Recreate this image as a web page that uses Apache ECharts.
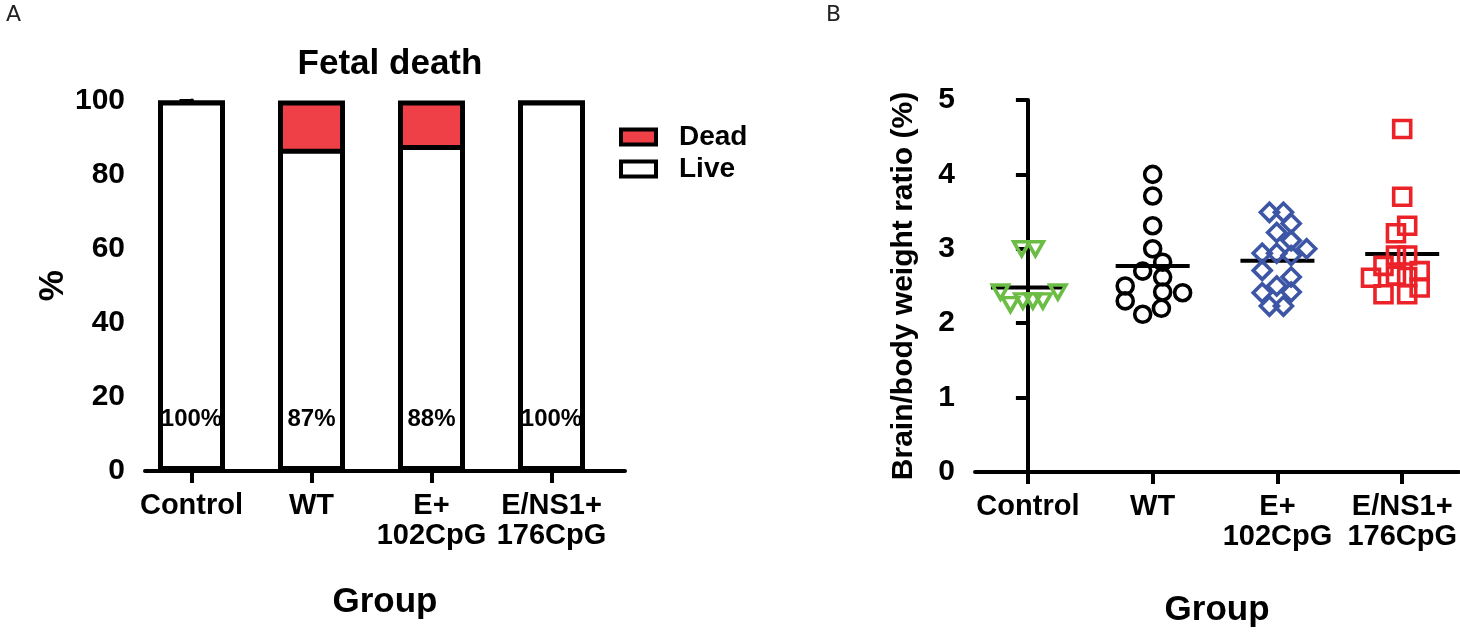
<!DOCTYPE html>
<html>
<head>
<meta charset="utf-8">
<script src="https://cdn.jsdelivr.net/npm/echarts@6/dist/echarts.min.js"></script>
<style>
  html, body { margin: 0; padding: 0; background: #fff; }
  #chart { width: 1460px; height: 633px; }
</style>
</head>
<body>
<div id="chart"></div>
<script>
// groups shared by both panels
const groups = ['Control', 'WT', 'E+\n102CpG', 'E/NS1+\n176CpG']

// panel A: fetal death (%)
const liveVals = [100, 87, 88, 100]
const deadVals = [0, 13, 12, 0]
const pctTicks = [0, 20, 40, 60, 80, 100]

// panel B: brain/body weight ratio (%), jitter is horizontal offset within group
const controlVals = [3.0, 3.0, 2.42, 2.25, 2.3, 2.3, 2.3, 2.42]
const controlJit = [-0.05, 0.06, -0.22, -0.14, -0.04, 0.04, 0.12, 0.24]
const wtVals = [4.0, 3.71, 3.31, 3.0, 2.82, 2.7, 2.62, 2.5, 2.42, 2.41, 2.3, 2.2, 2.12]
const wtJit = [0, 0, 0, 0, 0.08, -0.08, 0.08, -0.22, 0.08, 0.24, -0.22, 0.07, -0.08]
const eVals = [3.49, 3.49, 3.34, 3.22, 3.11, 3.0, 2.94, 2.94, 2.91, 2.71, 2.62, 2.5, 2.41, 2.42, 2.23, 2.23]
const eJit = [-0.064, 0.048, 0.11, -0.006, 0.11, 0.234, -0.122, -0.006, 0.11, -0.122, 0.11, -0.006, -0.122, 0.11, -0.064, 0.048]
const ensVals = [4.61, 3.7, 3.31, 3.21, 2.91, 2.91, 2.77, 2.7, 2.61, 2.64, 2.62, 2.48, 2.39, 2.39]
const ensJit = [0, 0, 0.04, -0.05, -0.05, 0.04, -0.15, 0.14, -0.25, -0.05, 0.04, 0.14, -0.15, 0.04]
const meanVals = [2.48, 2.77, 2.84, 2.93]
const ratioTicks = [0, 1, 2, 3, 4, 5]

const FONT = 'Liberation Sans'
const boldText = (size) => ({ fontFamily: FONT, fontWeight: 'bold', fontSize: size, color: '#000' })

function pts(vals, jit, gi) {
  return vals.map((v, i) => [gi + jit[i], v])
}
const toXY = (arr) => arr.map((v, i) => [i, v])

function xAxisCfg(idx, min, max, gap) {
  return {
    type: 'value', gridIndex: idx, min: min, max: max,
    name: 'Group', nameLocation: 'middle', nameGap: gap,
    nameTextStyle: boldText(35),
    splitLine: { show: false },
    axisLine: { show: true, lineStyle: { color: '#000', width: 4 } },
    axisTick: { show: true, customValues: [0, 1, 2, 3], length: 12, lineStyle: { color: '#000', width: 4 } },
    axisLabel: {
      customValues: [0, 1, 2, 3], margin: 20, lineHeight: 30,
      formatter: v => groups[Math.round(v)],
      ...boldText(29)
    }
  }
}

function yAxisCfg(idx, ticks, interval, name, gap, nameSize) {
  return {
    type: 'value', gridIndex: idx, min: ticks[0], max: ticks[ticks.length - 1], interval: interval,
    name: name, nameLocation: 'middle', nameGap: gap, nameRotate: 90,
    nameTextStyle: boldText(nameSize),
    splitLine: { show: false },
    axisLine: { show: true, lineStyle: { color: '#000', width: 4 } },
    axisTick: { show: true, length: 12, lineStyle: { color: '#000', width: 4 } },
    axisLabel: { margin: 20, ...boldText(30) }
  }
}

function hollow(name, vals, jit, gi, symbol, size, color, rotate) {
  return {
    name: name, type: 'scatter', xAxisIndex: 1, yAxisIndex: 1,
    symbol: symbol, symbolSize: size, symbolRotate: rotate || 0, clip: false,
    itemStyle: { color: 'rgba(0,0,0,0)', borderColor: color, borderWidth: 3.6, opacity: 1 },
    data: pts(vals, jit, gi), z: 3
  }
}

const chart = echarts.init(document.getElementById('chart'))
const option = {
  animation: false,
  backgroundColor: '#fff',
  title: {
    text: 'Fetal death', left: 385, top: 42, textAlign: 'center',
    textStyle: boldText(35)
  },
  legend: {
    data: ['Dead', 'Live'], orient: 'vertical', left: 614, top: 118,
    icon: 'rect', itemWidth: 35, itemHeight: 15, itemGap: 4,
    itemStyle: { borderColor: '#000', borderWidth: 4 },
    textStyle: { ...boldText(28), padding: [0, 0, 0, 18] }
  },
  graphic: [
    { type: 'text', left: 6, top: 4, style: { text: 'A', font: '22px "DejaVu Sans"', fill: '#222' } },
    { type: 'text', left: 826, top: 4, style: { text: 'B', font: '22px "DejaVu Sans"', fill: '#222' } }
  ],
  grid: [
    { left: 145, top: 100.5, width: 480, height: 370.5 },
    { left: 975, top: 100, width: 485, height: 374 }
  ],
  xAxis: [
    xAxisCfg(0, -0.3875, 3.6125, 114),
    xAxisCfg(1, -0.424, 3.456, 121)
  ],
  yAxis: [
    yAxisCfg(0, pctTicks, 20, '%', 72, 35),
    yAxisCfg(1, ratioTicks, 1, 'Brain/body weight ratio (%)', 56, 30)
  ],
  series: [
    // full bar (live + dead) in red, the live part is laid over it in white
    {
      name: 'Dead', type: 'bar', barWidth: 67, clip: false,
      itemStyle: { color: '#ef4047', borderColor: '#000', borderWidth: 5 },
      data: liveVals.map((v, i) => [i, v + deadVals[i]])
    },
    {
      name: 'Live', type: 'bar', barWidth: 67, barGap: '-100%', clip: false,
      itemStyle: { color: '#fff', borderColor: '#000', borderWidth: 5 },
      label: {
        show: true, position: 'insideBottom', distance: 40,
        formatter: p => p.value[1] + '%',
        ...boldText(24)
      },
      data: toXY(liveVals)
    },
    {
      name: 'Mean', type: 'scatter', xAxisIndex: 1, yAxisIndex: 1,
      symbol: 'rect', symbolSize: [74, 4], z: 2,
      itemStyle: { color: '#000', opacity: 1 },
      data: toXY(meanVals)
    },
    hollow('Control', controlVals, controlJit, 0, 'triangle', [16, 14], '#6cbd45', 180),
    hollow('WT', wtVals, wtJit, 1, 'circle', 16, '#000'),
    hollow('E+102CpG', eVals, eJit, 2, 'diamond', 18, '#3c55a5'),
    hollow('E/NS1+176CpG', ensVals, ensJit, 3, 'rect', 17, '#ec2229')
  ]
}
chart.setOption(option)
</script>
</body>
</html>
